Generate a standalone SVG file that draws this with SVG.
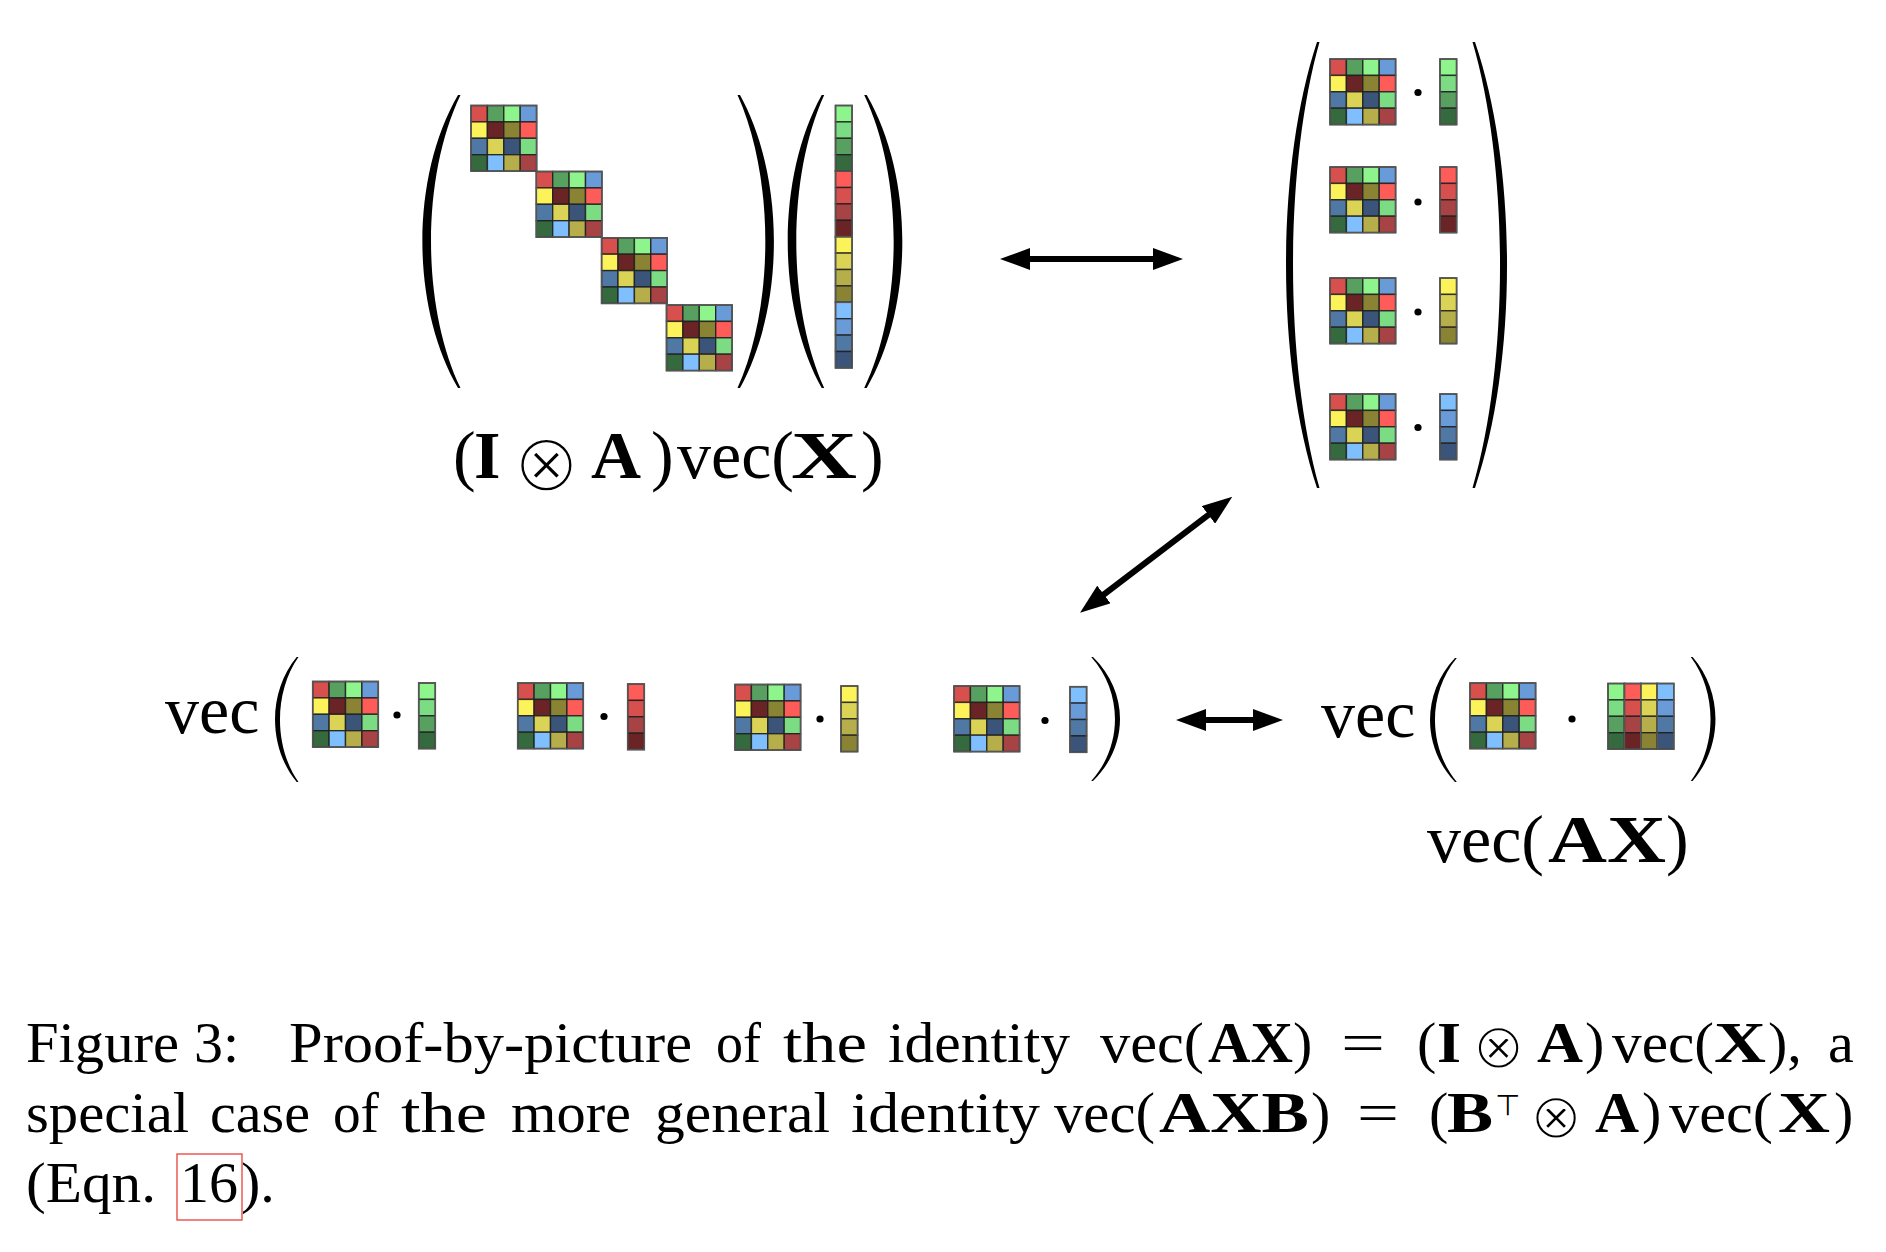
<svg xmlns="http://www.w3.org/2000/svg" xmlns:xlink="http://www.w3.org/1999/xlink" width="1886" height="1252" viewBox="0 0 1886 1252">
<style>
.c{stroke:#1e1e1e;stroke-width:1.4;stroke-opacity:.85}
.g1{fill:#8df58c}.g2{fill:#7cdc84}.g3{fill:#57a05f}.g4{fill:#356a3e}
.r1{fill:#fd5c59}.r2{fill:#d8504e}.r3{fill:#a84345}.r4{fill:#6b2426}
.y1{fill:#fcf25a}.y2{fill:#dbd356}.y3{fill:#b5ae4a}.y4{fill:#898333}
.b1{fill:#80bffd}.b2{fill:#699bd9}.b3{fill:#5078a5}.b4{fill:#3a5579}
.frame{fill:none;stroke:#555;stroke-width:1.6}
.paren{fill:#000}
.m{font-family:"Liberation Serif",serif;font-size:68px;fill:#000}
.op{font-family:"DejaVu Sans","DejaVu Serif",sans-serif;fill:#000;stroke:#fff;paint-order:fill stroke}
.sym{font-family:"DejaVu Sans","DejaVu Serif",sans-serif;fill:#000}
.cap{font-family:"Liberation Serif",serif;font-size:58px;fill:#000}
.bd{font-weight:bold}
.conn{stroke:#000;stroke-width:6;fill:none}
</style>
<defs>
<g id="mA">
<rect class="c r2" x="0" y="0" width="16.4" height="16.4"/><rect class="c g3" x="16.4" y="0" width="16.4" height="16.4"/><rect class="c g1" x="32.8" y="0" width="16.4" height="16.4"/><rect class="c b2" x="49.2" y="0" width="16.4" height="16.4"/>
<rect class="c y1" x="0" y="16.4" width="16.4" height="16.4"/><rect class="c r4" x="16.4" y="16.4" width="16.4" height="16.4"/><rect class="c y4" x="32.8" y="16.4" width="16.4" height="16.4"/><rect class="c r1" x="49.2" y="16.4" width="16.4" height="16.4"/>
<rect class="c b3" x="0" y="32.8" width="16.4" height="16.4"/><rect class="c y2" x="16.4" y="32.8" width="16.4" height="16.4"/><rect class="c b4" x="32.8" y="32.8" width="16.4" height="16.4"/><rect class="c g2" x="49.2" y="32.8" width="16.4" height="16.4"/>
<rect class="c g4" x="0" y="49.2" width="16.4" height="16.4"/><rect class="c b1" x="16.4" y="49.2" width="16.4" height="16.4"/><rect class="c y3" x="32.8" y="49.2" width="16.4" height="16.4"/><rect class="c r3" x="49.2" y="49.2" width="16.4" height="16.4"/>
<rect class="frame" x="0" y="0" width="65.6" height="65.6"/>
</g>
<g id="vG"><rect class="c g1" x="0" y="0" width="16.6" height="16.4"/><rect class="c g2" x="0" y="16.4" width="16.6" height="16.4"/><rect class="c g3" x="0" y="32.8" width="16.6" height="16.4"/><rect class="c g4" x="0" y="49.2" width="16.6" height="16.4"/><rect class="frame" x="0" y="0" width="16.6" height="65.6"/></g>
<g id="vR"><rect class="c r1" x="0" y="0" width="16.6" height="16.4"/><rect class="c r2" x="0" y="16.4" width="16.6" height="16.4"/><rect class="c r3" x="0" y="32.8" width="16.6" height="16.4"/><rect class="c r4" x="0" y="49.2" width="16.6" height="16.4"/><rect class="frame" x="0" y="0" width="16.6" height="65.6"/></g>
<g id="vY"><rect class="c y1" x="0" y="0" width="16.6" height="16.4"/><rect class="c y2" x="0" y="16.4" width="16.6" height="16.4"/><rect class="c y3" x="0" y="32.8" width="16.6" height="16.4"/><rect class="c y4" x="0" y="49.2" width="16.6" height="16.4"/><rect class="frame" x="0" y="0" width="16.6" height="65.6"/></g>
<g id="vB"><rect class="c b1" x="0" y="0" width="16.6" height="16.4"/><rect class="c b2" x="0" y="16.4" width="16.6" height="16.4"/><rect class="c b3" x="0" y="32.8" width="16.6" height="16.4"/><rect class="c b4" x="0" y="49.2" width="16.6" height="16.4"/><rect class="frame" x="0" y="0" width="16.6" height="65.6"/></g>
<g id="mX">
<use href="#vG" x="0" y="0"/><use href="#vR" x="16.4" y="0"/><use href="#vY" x="32.8" y="0"/><use href="#vB" x="49.2" y="0"/>
</g>
<marker id="ah" viewBox="0 0 30 22" markerWidth="30" markerHeight="22" refX="5" refY="11" orient="auto-start-reverse" markerUnits="userSpaceOnUse"><path d="M0,0 L30,11 L0,22 Z" fill="#000"/></marker>
</defs>
<rect x="0" y="0" width="1886" height="1252" fill="#fff"/>

<g id="kron-product">
<path class="paren" d="M458,95 C410.5,177 410.5,306 458,388 L460.5,388 C421.2,306 421.2,177 460.5,95 Z"/>
<use href="#mA" x="471" y="105.5"/>
<use href="#mA" x="536.3" y="171.5"/>
<use href="#mA" x="601.6" y="237.8"/>
<use href="#mA" x="666.5" y="305"/>
<path class="paren" d="M740,95 C785.2,177 785.2,306 740,388 L737.5,388 C774.6,306 774.6,177 737.5,95 Z"/>
<path class="paren" d="M821.7,95 C776.4,177 776.4,306 821.7,388 L824.2,388 C787,306 787,177 824.2,95 Z"/>
<use href="#vG" x="835.5" y="105.5"/>
<use href="#vR" x="835.5" y="171.1"/>
<use href="#vY" x="835.5" y="236.7"/>
<use href="#vB" x="835.5" y="302.3"/>
<path class="paren" d="M866.7,95 C914.2,177 914.2,306 866.7,388 L864.2,388 C903.5,306 903.5,177 864.2,95 Z"/>
<text class="m" x="453" y="478">(</text>
<text class="m bd" x="474" y="478">I</text>
<text class="op" x="546.5" y="491" font-size="82" stroke-width="3.6" text-anchor="middle">⊗</text>
<text class="m bd" x="591" y="478" textLength="50" lengthAdjust="spacingAndGlyphs">A</text>
<text class="m" x="651" y="478">)</text>
<text class="m" x="677" y="478">vec(</text>
<text class="m bd" x="791" y="478" textLength="66" lengthAdjust="spacingAndGlyphs">X</text>
<text class="m" x="861" y="478">)</text>
</g>

<g id="stacked-products">
<path class="paren" d="M1317,42 C1275.7,167 1275.7,363 1317,488 L1319.5,488 C1284.2,363 1284.2,167 1319.5,42 Z"/>
<use href="#mA" x="1330" y="59"/><circle cx="1418" cy="92.5" r="3.6"/><use href="#vG" x="1440" y="59"/>
<use href="#mA" x="1330" y="167"/><circle cx="1418" cy="202" r="3.6"/><use href="#vR" x="1440" y="167"/>
<use href="#mA" x="1330" y="278"/><circle cx="1418" cy="312" r="3.6"/><use href="#vY" x="1440" y="278"/>
<use href="#mA" x="1330" y="394"/><circle cx="1418" cy="427.5" r="3.6"/><use href="#vB" x="1440" y="394"/>
<path class="paren" d="M1475,42 C1517.7,167 1517.7,363 1475,488 L1472.5,488 C1509.2,363 1509.2,167 1472.5,42 Z"/>
</g>

<g id="vec-of-columns">
<text class="m" x="165" y="733">vec</text>
<path class="paren" d="M296.7,657 C267.8,692 267.8,747 296.7,782 L298.5,782 C273.8,747 273.8,692 298.5,657 Z"/>
<use href="#mA" x="312.7" y="681.5"/><circle cx="397" cy="715" r="3.6"/><use href="#vG" x="418.7" y="683"/>
<use href="#mA" x="517.7" y="683"/><circle cx="604" cy="716.5" r="3.6"/><use href="#vR" x="627.7" y="684"/>
<use href="#mA" x="735" y="684.5"/><circle cx="820" cy="719" r="3.6"/><use href="#vY" x="841" y="686"/>
<use href="#mA" x="954" y="686"/><circle cx="1045" cy="720.5" r="3.6"/><use href="#vB" x="1070" y="686.7"/>
<path class="paren" d="M1093,657 C1129,692 1129,746 1093,781 L1091.2,781 C1122.9,746 1122.9,692 1091.2,657 Z"/>
</g>

<g id="vec-AX">
<text class="m" x="1321" y="737">vec</text>
<path class="paren" d="M1455,658 C1421.7,693 1421.7,747 1455,782 L1456.8,782 C1427.7,747 1427.7,693 1456.8,658 Z"/>
<use href="#mA" x="1470" y="683"/>
<circle cx="1572" cy="719" r="3.6"/>
<use href="#mX" x="1608" y="683.5"/>
<path class="paren" d="M1692.6,657 C1723.1,692 1723.1,746 1692.6,781 L1690.8,781 C1717.1,746 1717.1,692 1690.8,657 Z"/>
<text class="m" x="1427" y="862">vec(</text>
<text class="m bd" x="1548" y="862" textLength="118" lengthAdjust="spacingAndGlyphs">AX</text>
<text class="m" x="1666" y="862">)</text>
</g>

<g id="connectors">
<line class="conn" x1="1025" y1="259" x2="1158" y2="259" marker-start="url(#ah)" marker-end="url(#ah)"/>
<line class="conn" x1="1099.9" y1="597.5" x2="1212.4" y2="511.9" marker-start="url(#ah)" marker-end="url(#ah)"/>
<line class="conn" x1="1201" y1="720" x2="1258" y2="720" marker-start="url(#ah)" marker-end="url(#ah)"/>
</g>

<g id="caption">
<text class="cap" x="26" y="1062" textLength="153" lengthAdjust="spacingAndGlyphs">Figure</text>
<text class="cap" x="194" y="1062">3:</text>
<text class="cap" x="289" y="1062" textLength="403" lengthAdjust="spacingAndGlyphs">Proof-by-picture</text>
<text class="cap" x="716" y="1062" textLength="45" lengthAdjust="spacingAndGlyphs">of</text>
<text class="cap" x="783" y="1062" textLength="84" lengthAdjust="spacingAndGlyphs">the</text>
<text class="cap" x="888" y="1062" textLength="182" lengthAdjust="spacingAndGlyphs">identity</text>
<text class="cap" x="1100" y="1062" textLength="104" lengthAdjust="spacingAndGlyphs">vec(</text>
<text class="cap bd" x="1208" y="1062" textLength="85" lengthAdjust="spacingAndGlyphs">AX</text>
<text class="cap" x="1293" y="1062">)</text>
<text class="cap" x="1341" y="1062" textLength="44" lengthAdjust="spacingAndGlyphs">=</text>
<text class="cap" x="1417" y="1062">(</text>
<text class="cap bd" x="1437" y="1062" textLength="24" lengthAdjust="spacingAndGlyphs">I</text>
<text class="op" x="1498.5" y="1068" font-size="64" stroke-width="2.6" text-anchor="middle">⊗</text>
<text class="cap bd" x="1537" y="1062" textLength="46" lengthAdjust="spacingAndGlyphs">A</text>
<text class="cap" x="1585" y="1062">)</text>
<text class="cap" x="1612" y="1062" textLength="102" lengthAdjust="spacingAndGlyphs">vec(</text>
<text class="cap bd" x="1714" y="1062" textLength="52" lengthAdjust="spacingAndGlyphs">X</text>
<text class="cap" x="1768" y="1062">),</text>
<text class="cap" x="1828" y="1062">a</text>

<text class="cap" x="26" y="1132" textLength="163" lengthAdjust="spacingAndGlyphs">special</text>
<text class="cap" x="210" y="1132" textLength="100" lengthAdjust="spacingAndGlyphs">case</text>
<text class="cap" x="333" y="1132" textLength="46" lengthAdjust="spacingAndGlyphs">of</text>
<text class="cap" x="401" y="1132" textLength="86" lengthAdjust="spacingAndGlyphs">the</text>
<text class="cap" x="511" y="1132" textLength="120" lengthAdjust="spacingAndGlyphs">more</text>
<text class="cap" x="655" y="1132" textLength="175" lengthAdjust="spacingAndGlyphs">general</text>
<text class="cap" x="851" y="1132" textLength="189" lengthAdjust="spacingAndGlyphs">identity</text>
<text class="cap" x="1054" y="1132" textLength="101" lengthAdjust="spacingAndGlyphs">vec(</text>
<text class="cap bd" x="1159" y="1132" textLength="150" lengthAdjust="spacingAndGlyphs">AXB</text>
<text class="cap" x="1311" y="1132">)</text>
<text class="cap" x="1357" y="1132" textLength="42" lengthAdjust="spacingAndGlyphs">=</text>
<text class="cap" x="1429" y="1132">(</text>
<text class="cap bd" x="1447" y="1132" textLength="46" lengthAdjust="spacingAndGlyphs">B</text>
<text class="sym" x="1495" y="1115" font-size="29">⊤</text>
<text class="op" x="1556" y="1138" font-size="64" stroke-width="2.6" text-anchor="middle">⊗</text>
<text class="cap bd" x="1595" y="1132" textLength="44" lengthAdjust="spacingAndGlyphs">A</text>
<text class="cap" x="1642" y="1132">)</text>
<text class="cap" x="1669" y="1132" textLength="104" lengthAdjust="spacingAndGlyphs">vec(</text>
<text class="cap bd" x="1778" y="1132" textLength="52" lengthAdjust="spacingAndGlyphs">X</text>
<text class="cap" x="1834" y="1132">)</text>

<text class="cap" x="26" y="1202" textLength="130" lengthAdjust="spacingAndGlyphs">(Eqn.</text>
<text class="cap" x="180" y="1202" textLength="58" lengthAdjust="spacingAndGlyphs">16</text>
<text class="cap" x="241" y="1202">).</text>
<rect x="177" y="1154" width="65" height="66" fill="none" stroke="#e8413a" stroke-width="1.3"/>
</g>
</svg>
